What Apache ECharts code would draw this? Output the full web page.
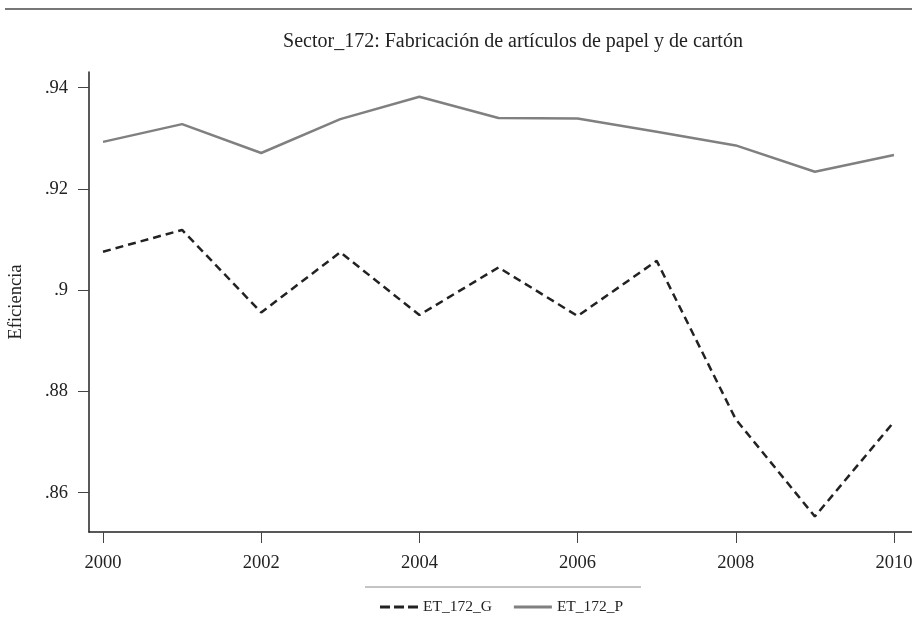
<!DOCTYPE html>
<html>
<head>
<meta charset="utf-8">
<script src="https://cdn.jsdelivr.net/npm/echarts@6/dist/echarts.min.js"></script>
<style>html,body{margin:0;padding:0;background:#fff}#c{width:912px;height:623px}</style>
</head>
<body>
<div id="c"></div>
<script>
const years = [2000, 2001, 2002, 2003, 2004, 2005, 2006, 2007, 2008, 2009, 2010];
const etG = [0.9076, 0.9119, 0.8956, 0.9075, 0.8951, 0.9045, 0.8949, 0.9058, 0.8745, 0.8553, 0.8740];
const etP = [0.9293, 0.9328, 0.9271, 0.9338, 0.9382, 0.9340, 0.9339, 0.9313, 0.9286, 0.9234, 0.9267];
const xTicks = [2000, 2002, 2004, 2006, 2008, 2010];
const yTicks = [0.86, 0.88, 0.9, 0.92, 0.94];
const titleText = 'Sector_172: Fabricación de artículos de papel y de cartón';
const yName = 'Eficiencia';
const names = ['ET_172_G', 'ET_172_P'];

const font = '"Liberation Serif", "DejaVu Serif", serif';
const chart = echarts.init(document.getElementById('c'), null, {renderer: 'canvas'});
chart.setOption({
  animation: false,
  backgroundColor: '#fff',
  title: {
    text: titleText, left: 508, top: 27, textAlign: 'center',
    textStyle: {fontFamily: font, fontSize: 20, fontWeight: 'normal', color: '#222'}
  },
  grid: {left: 89, right: 0, top: 72, bottom: 91, containLabel: false, outerBoundsMode: 'none'},
  xAxis: {
    type: 'value', min: 1999.823, max: 2010.228,
    axisLine: {lineStyle: {color: '#222', width: 1.5}},
    axisTick: {show: true, length: 11, customValues: xTicks, lineStyle: {color: '#444', width: 1}},
    axisLabel: {customValues: xTicks, margin: 22, fontFamily: font, fontSize: 18.5, color: '#222', formatter: v => String(v)},
    splitLine: {show: false}
  },
  yAxis: {
    type: 'value', min: 0.85224, max: 0.9431,
    name: yName, nameLocation: 'middle', nameRotate: 90, nameGap: 63,
    nameTextStyle: {fontFamily: font, fontSize: 18.5, color: '#222'},
    axisLine: {show: true, lineStyle: {color: '#222', width: 1.5}},
    axisTick: {show: true, length: 11, customValues: yTicks, lineStyle: {color: '#444', width: 1}},
    axisLabel: {customValues: yTicks, margin: 21, fontFamily: font, fontSize: 18.5, color: '#222',
      formatter: v => String(+v.toFixed(2)).replace(/^0/, '')},
    splitLine: {show: false}
  },
  legend: {
    left: 375, top: 594, itemWidth: 38, itemHeight: 3, itemGap: 22,
    textStyle: {fontFamily: font, fontSize: 15.5, color: '#222'},
    data: [
      {name: names[0], icon: 'path://M0,0h10v3h-10z M14,0h10v3h-10z M28,0h10v3h-10z'},
      {name: names[1], icon: 'rect'}
    ]
  },
  graphic: [
    {type: 'line', shape: {x1: 5, y1: 9, x2: 912, y2: 9}, style: {stroke: '#777', lineWidth: 2}},
    {type: 'line', shape: {x1: 365, y1: 587, x2: 641, y2: 587}, style: {stroke: '#888', lineWidth: 1}}
  ],
  series: [
    {
      name: names[0], type: 'line', symbol: 'none',
      data: years.map((y, i) => [y, etG[i]]),
      lineStyle: {color: '#222', width: 2.5, type: [8, 5]},
      itemStyle: {color: '#222'}
    },
    {
      name: names[1], type: 'line', symbol: 'none',
      data: years.map((y, i) => [y, etP[i]]),
      lineStyle: {color: '#808080', width: 2.5},
      itemStyle: {color: '#808080'}
    }
  ]
});
</script>
</body>
</html>
